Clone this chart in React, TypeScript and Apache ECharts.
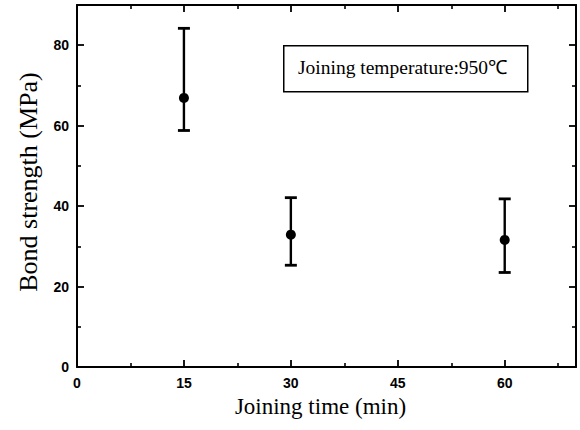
import React, { useEffect, useRef } from "react";
import * as echarts from "echarts";

const joiningTimes = [15, 30, 60];
const meanStrength = [66.9, 32.9, 31.6];
const lowerStrength = [58.8, 25.3, 23.5];
const upperStrength = [84.2, 42.1, 41.8];
const xTicks = [0, 15, 30, 45, 60];
const yTicks = [0, 20, 40, 60, 80];
const annotation = "Joining temperature:950℃";

export default function App() {
  const ref = useRef<HTMLDivElement>(null);
  useEffect(() => {
    if (!ref.current) return;
    const chart = echarts.init(ref.current, undefined, { renderer: "svg" });
    const black = "#000";
    const serif = "Liberation Serif";
    const tickFont = { fontFamily: "Liberation Sans", fontWeight: "bold" as const, fontSize: 14, color: black };
    const axisCommon = {
      type: "value" as const,
      axisLine: { show: true, onZero: false, lineStyle: { color: black, width: 2 } },
      axisTick: { show: true, inside: true, length: 7, lineStyle: { color: black, width: 1.8 } },
      minorTick: { show: true, splitNumber: 2, length: 4, lineStyle: { color: black, width: 1.6 } },
      splitLine: { show: false },
    };
    const errData = joiningTimes.map((t, i) => [t, lowerStrength[i], upperStrength[i]]);
    chart.setOption({
      animation: false,
      backgroundColor: "#fff",
      grid: { left: 77, right: 4, top: 5, bottom: 63, containLabel: false },
      title: {
        text: annotation,
        left: 298,
        top: 57,
        padding: 0,
        textStyle: { fontFamily: serif, fontSize: 19.5, fontWeight: "normal", color: black },
        z: 10,
      },
      xAxis: [
        {
          ...axisCommon,
          min: 0,
          max: 70,
          interval: 15,
          position: "bottom",
          axisLabel: {
            ...tickFont,
            margin: 9,
            formatter: (v: number) => (xTicks.includes(v) ? String(v) : ""),
          },
          name: "Joining time (min)",
          nameLocation: "middle",
          nameGap: 28,
          nameTextStyle: { fontFamily: serif, fontSize: 23, color: black, padding: [0, 12, 0, 0] },
        },
        {
          ...axisCommon,
          min: 0,
          max: 70,
          interval: 15,
          position: "top",
          axisLabel: { show: false },
        },
      ],
      yAxis: [
        {
          ...axisCommon,
          min: 0,
          max: 90,
          interval: 20,
          position: "left",
          axisLabel: {
            ...tickFont,
            margin: 8,
            formatter: (v: number) => (yTicks.includes(v) ? String(v) : ""),
          },
          name: "Bond strength (MPa)",
          nameLocation: "middle",
          nameGap: 36,
          nameTextStyle: { fontFamily: serif, fontSize: 26, color: black, padding: [0, 0, 0, 8] },
        },
        {
          ...axisCommon,
          min: 0,
          max: 90,
          interval: 20,
          position: "right",
          axisLabel: { show: false },
        },
      ],
      series: [
        {
          type: "custom",
          xAxisIndex: 0,
          yAxisIndex: 0,
          data: errData,
          renderItem: (params: any, api: any) => {
            const x = api.value(0);
            const lo = api.coord([x, api.value(1)]);
            const hi = api.coord([x, api.value(2)]);
            const hw = 6;
            const style = { stroke: black, lineWidth: 2.4 };
            return {
              type: "group",
              children: [
                { type: "line", shape: { x1: lo[0], y1: lo[1], x2: hi[0], y2: hi[1] }, style },
                { type: "line", shape: { x1: lo[0] - hw, y1: lo[1], x2: lo[0] + hw, y2: lo[1] }, style: { stroke: black, lineWidth: 2.8 } },
                { type: "line", shape: { x1: hi[0] - hw, y1: hi[1], x2: hi[0] + hw, y2: hi[1] }, style: { stroke: black, lineWidth: 2.8 } },
              ],
            };
          },
          z: 2,
        },
        {
          type: "scatter",
          xAxisIndex: 0,
          yAxisIndex: 0,
          data: joiningTimes.map((t, i) => [t, meanStrength[i]]),
          symbol: "circle",
          symbolSize: 10,
          itemStyle: { color: black, opacity: 1 },
          z: 3,
        },
      ],
      graphic: [
        {
          type: "rect",
          left: 283,
          top: 45,
          shape: { x: 0, y: 0, width: 244, height: 46 },
          style: { fill: "#fff", stroke: black, lineWidth: 1.5 },
          z: 5,
        },
      ],
    });
    return () => chart.dispose();
  }, []);
  return <div ref={ref} style={{ position: "fixed", left: 0, top: 0, width: 580, height: 430 }} />;
}
